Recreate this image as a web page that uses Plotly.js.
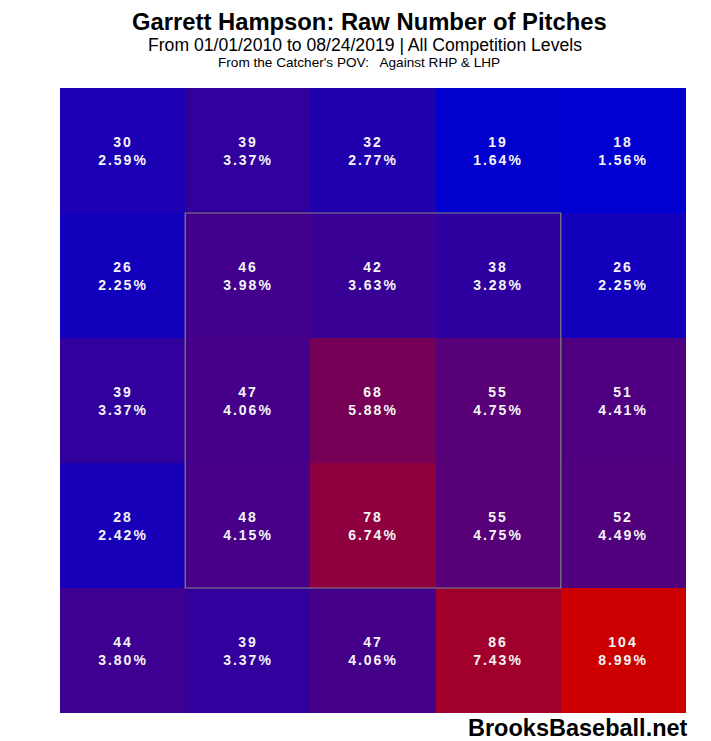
<!DOCTYPE html>
<html>
<head>
<meta charset="utf-8">
<script src="https://cdn.plot.ly/plotly-3.0.1.min.js"></script>
<style>
html,body{margin:0;padding:0;background:#fff;}
#chart{width:711px;height:741px;}
#chart .cartesianlayer text{letter-spacing:2px;}
</style>
</head>
<body>
<div id="chart"></div>
<script>
// Rows from top to bottom, columns left to right (catcher's POV)
const counts = [
  [30, 39, 32, 19, 18],
  [26, 46, 42, 38, 26],
  [39, 47, 68, 55, 51],
  [28, 48, 78, 55, 52],
  [44, 39, 47, 86, 104]
];
const percents = [
  ["2.59%", "3.37%", "2.77%", "1.64%", "1.56%"],
  ["2.25%", "3.98%", "3.63%", "3.28%", "2.25%"],
  ["3.37%", "4.06%", "5.88%", "4.75%", "4.41%"],
  ["2.42%", "4.15%", "6.74%", "4.75%", "4.49%"],
  ["3.80%", "3.37%", "4.06%", "7.43%", "8.99%"]
];
const colIdx = [0, 1, 2, 3, 4];
const rowIdx = [0, 1, 2, 3, 4];

const labels = counts.map((row, i) => row.map((v, j) => v + "<br>" + percents[i][j]));

const trace = {
  type: "heatmap",
  x: colIdx,
  y: rowIdx,
  z: counts,
  text: labels,
  texttemplate: "%{text}",
  textfont: {family: "Liberation Sans, Arial, sans-serif", size: 14, color: "#f4f4f4", weight: "bold"},
  colorscale: [[0, "rgb(0,0,208)"], [1, "rgb(204,0,0)"]],
  zmin: 18,
  zmax: 104,
  showscale: false,
  xgap: 0,
  ygap: 0,
  hoverinfo: "skip"
};

const layout = {
  width: 711,
  height: 741,
  margin: {l: 60, r: 25, t: 88, b: 28},
  paper_bgcolor: "#ffffff",
  plot_bgcolor: "#ffffff",
  font: {family: "Liberation Sans, Arial, sans-serif", color: "#000"},
  xaxis: {range: [-0.5, 4.5], showgrid: false, zeroline: false, showticklabels: false, ticks: "", showline: false, fixedrange: true},
  yaxis: {range: [4.5, -0.5], showgrid: false, zeroline: false, showticklabels: false, ticks: "", showline: false, fixedrange: true},
  shapes: [
    {type: "rect", xref: "x", yref: "y", x0: 0.5, x1: 3.5, y0: 0.5, y1: 3.5,
     line: {color: "rgb(130,130,130)", width: 1.2}, fillcolor: "rgba(0,0,0,0)"}
  ],
  annotations: [
    {text: "<b>Garrett Hampson: Raw Number of Pitches</b>", xref: "paper", yref: "paper", x: 0.5, y: 1, xshift: -4, yshift: 67,
     showarrow: false, xanchor: "center", yanchor: "middle", font: {size: 23.8, color: "#000"}},
    {text: "From 01/01/2010 to 08/24/2019 | All Competition Levels", xref: "paper", yref: "paper", x: 0.5, y: 1, xshift: -8.5, yshift: 43,
     showarrow: false, xanchor: "center", yanchor: "middle", font: {size: 17.6, color: "#000"}},
    {text: "From the Catcher's POV:   Against RHP &amp; LHP", xref: "paper", yref: "paper", x: 0.5, y: 1, xshift: -14, yshift: 26,
     showarrow: false, xanchor: "center", yanchor: "middle", font: {size: 13.6, color: "#000"}},
    {text: "<b>BrooksBaseball.net</b>", xref: "paper", yref: "paper", x: 1, y: 0, xshift: 4, yshift: -15,
     showarrow: false, xanchor: "right", yanchor: "middle", font: {size: 23.5, color: "#000"}}
  ]
};

Plotly.newPlot("chart", [trace], layout, {displayModeBar: false, staticPlot: true});
</script>
</body>
</html>
